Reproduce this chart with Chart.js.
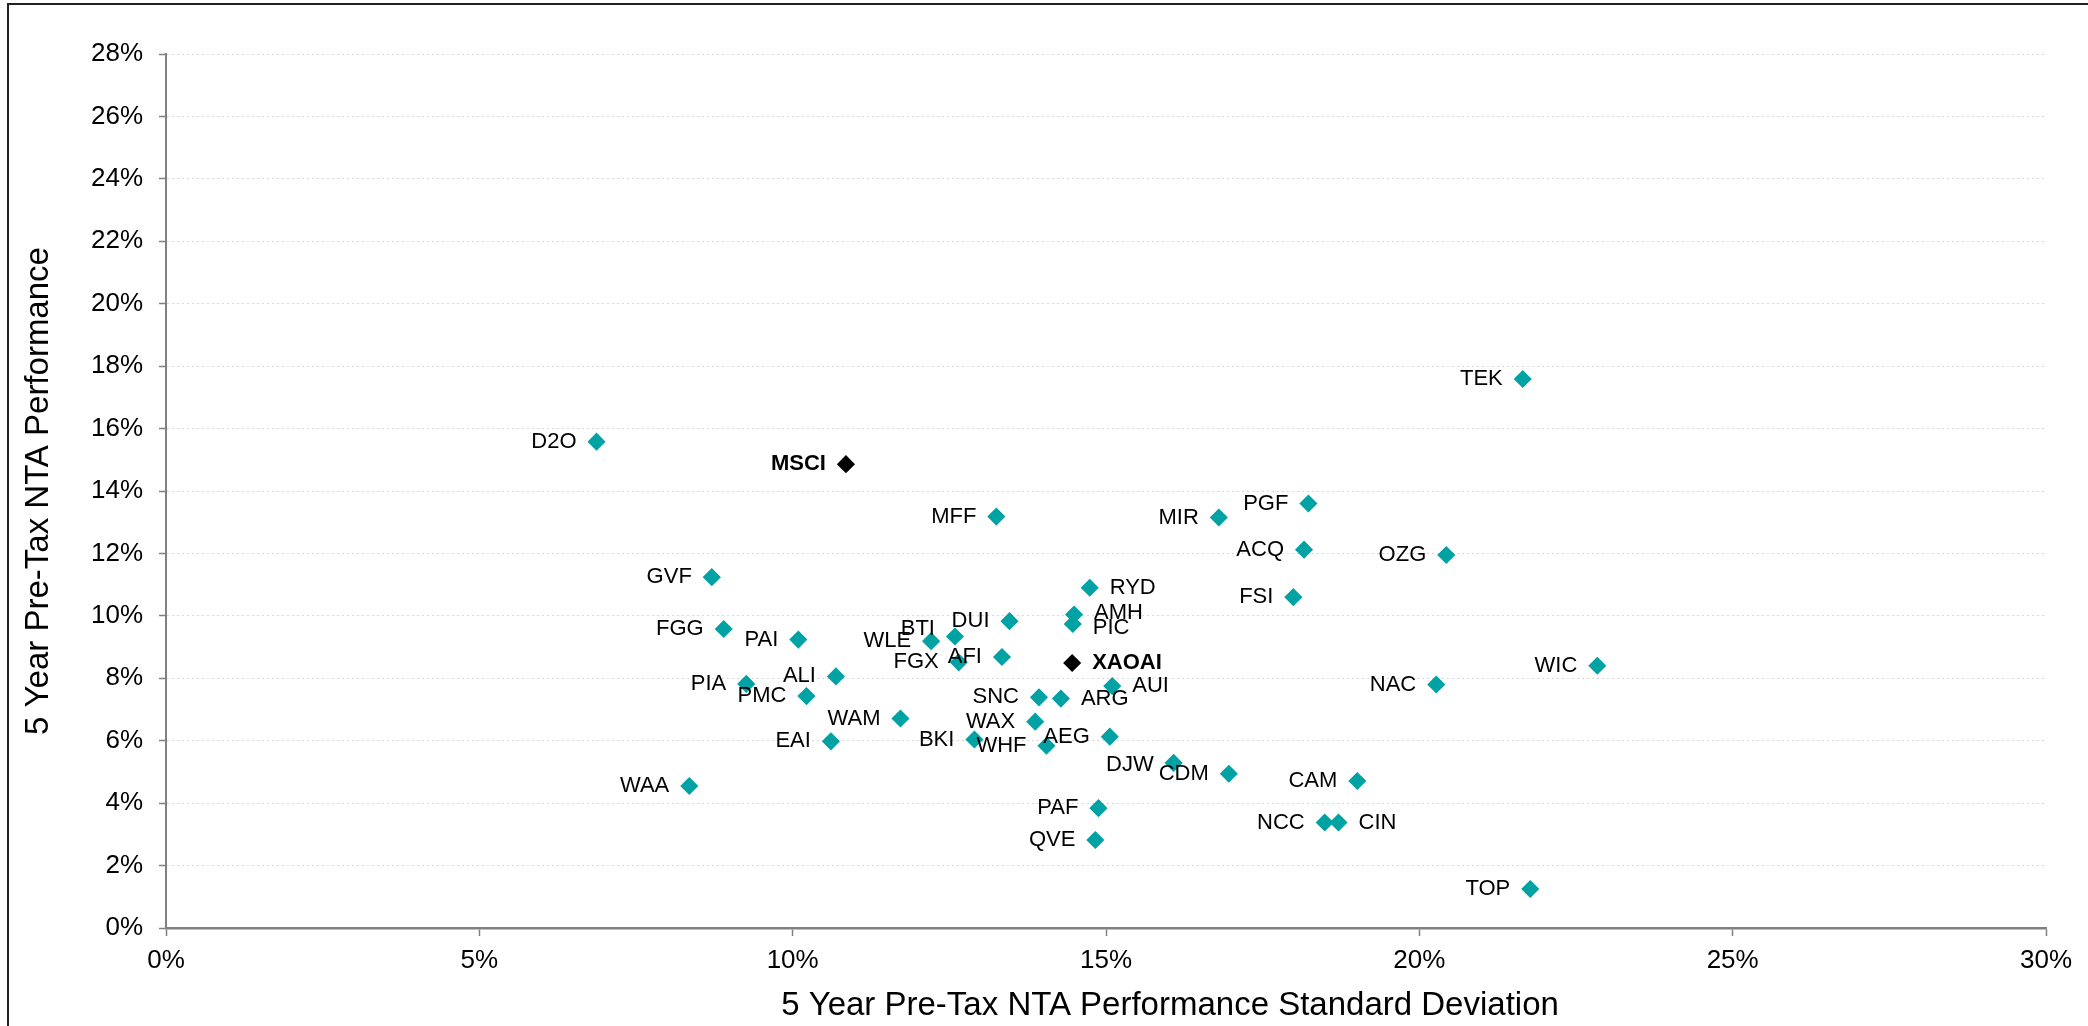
<!DOCTYPE html>
<html lang="en">
<head>
<meta charset="utf-8">
<title>5 Year Pre-Tax NTA Performance vs Standard Deviation</title>
<script src="https://cdn.jsdelivr.net/npm/chart.js@4.4.1/dist/chart.umd.min.js"></script>
<style>
    html, body { margin: 0; padding: 0; background: #fff; overflow: hidden; }
    #wrap { position: relative; width: 2088px; height: 1026px; }
    #frame {
        position: absolute; left: 7px; top: 3px; width: 3000px; height: 3000px;
        border-left: 2px solid #222; border-top: 2px solid #222; pointer-events: none;
    }
    canvas { display: block; }
</style>
</head>
<body>
<div id="wrap">
    <canvas id="riskChart" width="2088" height="1026"></canvas>
    <div id="frame"></div>
</div>

<script>
// ================== DATA ==================
// Listed investment companies (teal markers)
const fundCodes = [
    'D2O', 'MFF', 'GVF', 'RYD', 'AMH', 'PIC', 'DUI', 'FGG', 'PAI', 'BTI',
    'WLE', 'AFI', 'FGX', 'ALI', 'PIA', 'AUI', 'PMC', 'SNC', 'ARG', 'WAM',
    'WAX', 'AEG', 'BKI', 'EAI', 'WHF', 'DJW', 'WAA', 'PAF', 'QVE', 'TEK',
    'PGF', 'MIR', 'ACQ', 'OZG', 'FSI', 'WIC', 'NAC', 'CDM', 'CAM', 'NCC',
    'CIN', 'TOP'
];
// 5 year standard deviation (%)
const fundStdDev = [
    6.87, 13.25, 8.71, 14.74, 14.49, 14.47, 13.46, 8.90, 10.09, 12.59,
    12.21, 13.34, 12.65, 10.69, 9.26, 15.10, 10.22, 13.93, 14.28, 11.72,
    13.87, 15.06, 12.90, 10.61, 14.05, 16.08, 8.35, 14.88, 14.83, 21.65,
    18.23, 16.80, 18.16, 20.43, 17.99, 22.84, 20.27, 16.96, 19.01, 18.49,
    18.71, 21.77
];
// 5 year pre-tax NTA performance (%)
const fundReturn = [
    15.58, 13.18, 11.24, 10.90, 10.04, 9.74, 9.83, 9.58, 9.24, 9.34,
    9.19, 8.68, 8.51, 8.06, 7.82, 7.75, 7.43, 7.39, 7.35, 6.71,
    6.61, 6.13, 6.04, 5.98, 5.84, 5.29, 4.55, 3.84, 2.82, 17.59,
    13.60, 13.15, 12.12, 11.95, 10.60, 8.40, 7.80, 4.94, 4.71, 3.38,
    3.38, 1.25
];

// Market benchmarks (black markers, bold labels)
const benchCodes = ['MSCI', 'XAOAI'];
const benchStdDev = [10.85, 14.46];
const benchReturn = [14.86, 8.49];

// Axis ticks (%)
const xTicks = [0, 5, 10, 15, 20, 25, 30];
const yTicks = [0, 2, 4, 6, 8, 10, 12, 14, 16, 18, 20, 22, 24, 26, 28];

const xTitle = '5 Year Pre-Tax NTA Performance Standard Deviation';
const yTitle = '5 Year Pre-Tax NTA Performance';

// ================== LABEL PLACEMENT ==================
// Labels sit left of the marker unless listed here
const rightSideLabels = ['RYD', 'AMH', 'PIC', 'AUI', 'ARG', 'CIN', 'XAOAI'];
// Small vertical nudges where labels crowd each other
const labelNudge = { BTI: -8, AMH: -2, PIC: 4, DJW: 2 };

const FONT = '"Liberation Sans", Arial, Helvetica, sans-serif';
const TEAL = '#00A2A4';

// ================== HELPERS ==================
const toPoints = (xs, ys) => xs.map((x, i) => ({ x: x, y: ys[i] }));

// draws code labels next to every marker
const pointLabels = {
    id: 'pointLabels',
    afterDatasetsDraw(chart) {
        const ctx = chart.ctx;
        ctx.save();
        ctx.fillStyle = '#000';
        ctx.textBaseline = 'middle';
        chart.data.datasets.forEach((ds, di) => {
            const meta = chart.getDatasetMeta(di);
            ctx.font = (ds.boldLabels ? 'bold ' : '') + '22px ' + FONT;
            meta.data.forEach((el, i) => {
                const code = ds.codes[i];
                const right = rightSideLabels.includes(code);
                ctx.textAlign = right ? 'left' : 'right';
                const dx = right ? 20 : -20;
                ctx.fillText(code, el.x + dx, el.y + (labelNudge[code] || 0));
            });
        });
        ctx.restore();
    }
};

// x axis title (Excel placed it a little right of the plot centre)
const xAxisTitle = {
    id: 'xAxisTitle',
    afterDraw(chart) {
        const ctx = chart.ctx;
        const area = chart.chartArea;
        ctx.save();
        ctx.font = '33px ' + FONT;
        ctx.fillStyle = '#000';
        ctx.textAlign = 'center';
        ctx.textBaseline = 'middle';
        ctx.fillText(xTitle, (area.left + area.right) / 2 + 64, 1006);
        ctx.restore();
    }
};

// ================== CHART ==================
document.addEventListener('DOMContentLoaded', () => {
    Chart.defaults.font.family = FONT;
    Chart.defaults.color = '#000';

    const ctx = document.getElementById('riskChart').getContext('2d');

    new Chart(ctx, {
        type: 'scatter',
        data: {
            datasets: [
                {
                    label: 'LICs',
                    codes: fundCodes,
                    data: toPoints(fundStdDev, fundReturn),
                    backgroundColor: TEAL,
                    borderColor: TEAL,
                    borderWidth: 1.5,
                    pointStyle: 'rectRot',
                    pointRadius: 8
                },
                {
                    label: 'Benchmarks',
                    codes: benchCodes,
                    boldLabels: true,
                    data: toPoints(benchStdDev, benchReturn),
                    backgroundColor: '#000',
                    borderColor: '#000',
                    borderWidth: 1.5,
                    pointStyle: 'rectRot',
                    pointRadius: 8
                }
            ]
        },
        options: {
            responsive: false,
            animation: false,
            devicePixelRatio: 1,
            layout: { padding: { top: 54, right: 42, bottom: 0, left: 0 } },
            plugins: {
                legend: { display: false },
                tooltip: { enabled: false }
            },
            scales: {
                x: {
                    type: 'linear',
                    min: xTicks[0],
                    max: xTicks[xTicks.length - 1],
                    afterBuildTicks: (scale) => { scale.ticks = xTicks.map(v => ({ value: v })); },
                    afterFit: (scale) => { scale.height = 98; },
                    ticks: {
                        font: { size: 26 },
                        padding: 9,
                        maxRotation: 0,
                        callback: (v) => v + '%'
                    },
                    grid: {
                        drawOnChartArea: false,
                        drawTicks: true,
                        tickLength: 8,
                        tickColor: '#808080',
                        tickWidth: 1.5
                    },
                    border: { display: true, color: '#808080', width: 2.5 },
                    title: { display: false }
                },
                y: {
                    type: 'linear',
                    min: yTicks[0],
                    max: yTicks[yTicks.length - 1],
                    afterBuildTicks: (scale) => { scale.ticks = yTicks.map(v => ({ value: v })); },
                    afterFit: (scale) => { scale.width = 166; },
                    ticks: {
                        font: { size: 26 },
                        padding: 16,
                        callback: (v) => v + '%'
                    },
                    grid: {
                        color: '#d8d8d8',
                        lineWidth: 1,
                        drawTicks: true,
                        tickLength: 7,
                        tickColor: '#808080',
                        tickWidth: 1.5,
                        tickBorderDash: []
                    },
                    border: { display: true, color: '#808080', width: 2, dash: [2, 3] },
                    title: {
                        display: true,
                        text: yTitle,
                        font: { size: 33 },
                        padding: { top: 19, bottom: 0 }
                    }
                }
            }
        },
        plugins: [pointLabels, xAxisTitle]
    });
});
</script>
</body>
</html>
